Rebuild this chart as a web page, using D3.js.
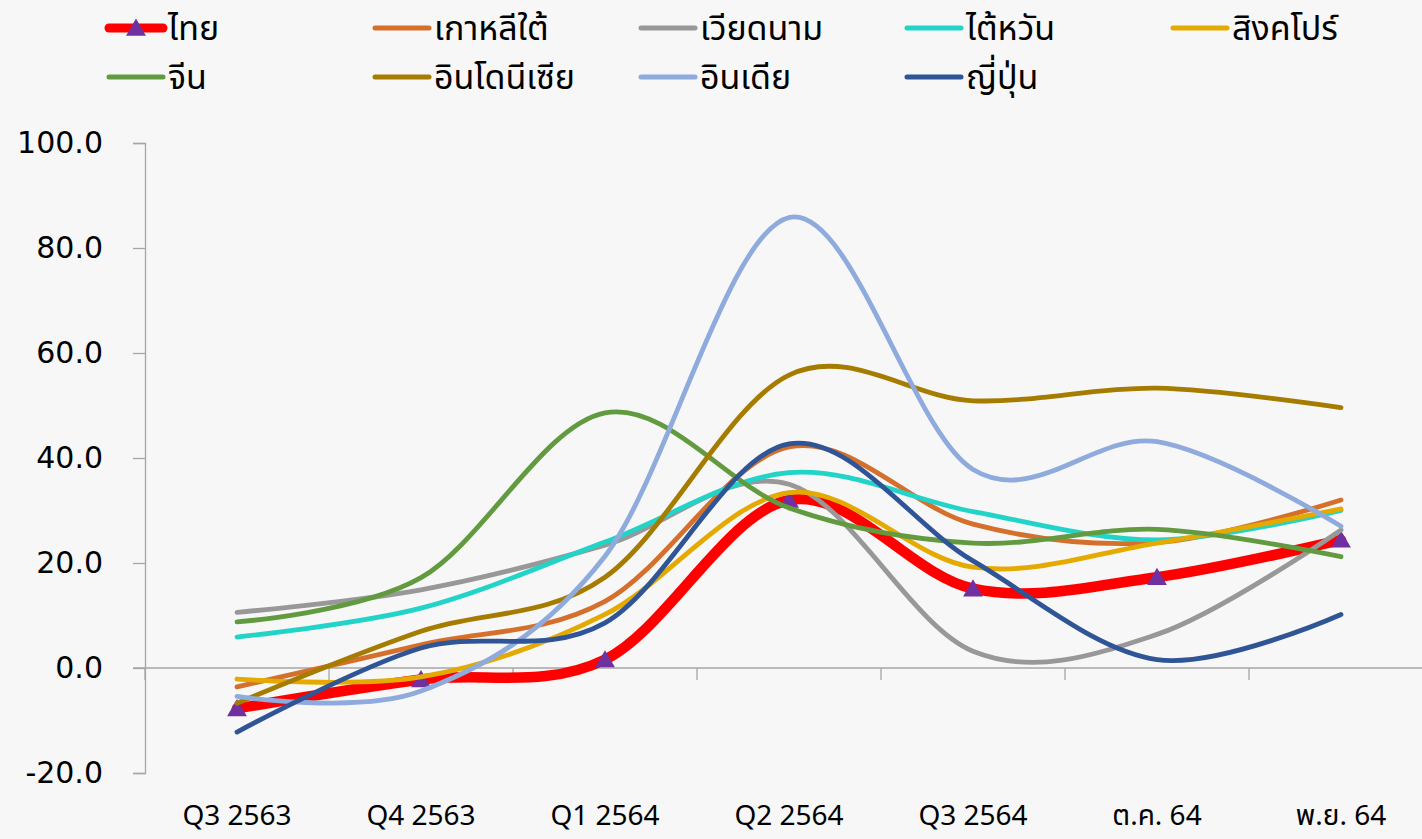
<!DOCTYPE html>
<html>
<head>
<meta charset="utf-8">
<script src="https://cdn.jsdelivr.net/npm/d3@7/dist/d3.min.js"></script>
<style>
  body { margin: 0; background: #f7f7f7; }
  svg { display: block; }
  .thai { font-family: "Noto Sans Thai", "Noto Sans", "DejaVu Sans", sans-serif; }
</style>
</head>
<body>
<div id="chart"></div>
<script>
var categories = ["Q3 2563", "Q4 2563", "Q1 2564", "Q2 2564", "Q3 2564", "ต.ค. 64", "พ.ย. 64"];
var yTicks = [-20, 0, 20, 40, 60, 80, 100];

var thai      = [-7.7, -2.2, 1.6, 32.0, 15.1, 17.3, 24.4];
var korea     = [-3.6, 4.4, 12.7, 42.1, 27.4, 23.9, 32.0];
var vietnam   = [10.6, 14.9, 23.4, 35.0, 3.2, 6.4, 26.3];
var taiwan    = [5.9, 11.4, 24.0, 37.2, 29.8, 24.4, 30.0];
var singapore = [-2.1, -1.7, 10.2, 33.4, 19.2, 23.8, 30.3];
var china     = [8.8, 17.2, 48.6, 30.5, 23.8, 26.4, 21.2];
var indonesia = [-6.7, 7.0, 17.3, 55.8, 50.9, 53.3, 49.6];
var india     = [-5.4, -4.4, 21.3, 85.8, 37.8, 43.1, 27.0];
var japan     = [-12.2, 3.8, 8.6, 42.7, 20.4, 1.6, 10.2];

var seriesNames = ["ไทย", "เกาหลีใต้", "เวียดนาม", "ไต้หวัน", "สิงคโปร์", "จีน", "อินโดนีเซีย", "อินเดีย", "ญี่ปุ่น"];
var seriesValues = [thai, korea, vietnam, taiwan, singapore, china, indonesia, india, japan];
var seriesColors = ["#ff0000", "#d4702c", "#989898", "#22d3c8", "#e4aa00", "#629b3f", "#a67c00", "#8faadc", "#2f5597"];

var W = 1422, H = 839;
var m = {top: 143, left: 145, bottom: 66};

var svg = d3.select("#chart").append("svg")
    .attr("width", W)
    .attr("height", H);

svg.append("rect").attr("width", W).attr("height", H).attr("fill", "#f7f7f7");

// scales
var x = d3.scaleBand().domain(categories).range([m.left, m.left + 184 * 7]).padding(0);
var y = d3.scaleLinear().domain([-20, 100]).range([H - m.bottom, m.top]);

function cx(i) { return x(categories[i]) + x.bandwidth() / 2; }

// y axis
var yAxis = d3.axisLeft(y)
    .tickValues(yTicks)
    .tickSize(12)
    .tickPadding(30)
    .tickFormat(function(d) { return d.toFixed(1); });

var gy = svg.append("g")
    .attr("transform", "translate(" + m.left + ",0)")
    .call(yAxis);
gy.select(".domain").attr("stroke", "#a6a6a6").attr("stroke-width", 1.3);
gy.selectAll(".tick line").attr("stroke", "#a6a6a6").attr("stroke-width", 1.3);
gy.selectAll(".tick text")
    .attr("fill", "#000")
    .style("font-family", "'DejaVu Sans', sans-serif")
    .style("font-size", "30px");

// zero line with category ticks
var y0 = y(0);
svg.append("line")
    .attr("x1", m.left - 12).attr("x2", W)
    .attr("y1", y0).attr("y2", y0)
    .attr("stroke", "#a6a6a6").attr("stroke-width", 1.3);

svg.selectAll(".xtick")
    .data(categories)
    .enter().append("line")
    .attr("class", "xtick")
    .attr("x1", function(d) { return x(d); })
    .attr("x2", function(d) { return x(d); })
    .attr("y1", y0).attr("y2", y0 + 12)
    .attr("stroke", "#a6a6a6").attr("stroke-width", 1.3);

// category labels
svg.selectAll(".xlabel")
    .data(categories)
    .enter().append("text")
    .attr("class", "xlabel thai")
    .attr("x", function(d, i) { return cx(i); })
    .attr("y", 825)
    .attr("text-anchor", "middle")
    .style("font-size", "28px")
    .attr("fill", "#000")
    .text(function(d) { return d; });

// lines
var line = d3.line()
    .x(function(d, i) { return cx(i); })
    .y(function(d) { return y(d); })
    .curve(d3.curveCardinal.tension(0));

var tri = d3.symbol().type(d3.symbolTriangle).size(170);

seriesValues.forEach(function(vals, s) {
    svg.append("path")
        .datum(vals)
        .attr("fill", "none")
        .attr("stroke", seriesColors[s])
        .attr("stroke-width", s == 0 ? 10.5 : 4.8)
        .attr("stroke-linecap", "round")
        .attr("stroke-linejoin", "round")
        .attr("d", line);

    if (s == 0) {
        svg.selectAll(".marker")
            .data(vals)
            .enter().append("path")
            .attr("class", "marker")
            .attr("d", tri)
            .attr("transform", function(d, i) { return "translate(" + cx(i) + "," + (y(d) + 2) + ")"; })
            .attr("fill", "#7030a0");
    }
});

// legend
var legCols = [107, 373, 639, 905, 1171], legRows = [28, 77];
var leg = svg.selectAll(".leg")
    .data(seriesNames)
    .enter().append("g")
    .attr("class", "leg")
    .attr("transform", function(d, i) {
        return "translate(" + legCols[i % 5] + "," + legRows[Math.floor(i / 5)] + ")";
    });

leg.append("line")
    .attr("x1", 2).attr("x2", 56)
    .attr("stroke", function(d, i) { return seriesColors[i]; })
    .attr("stroke-width", function(d, i) { return i == 0 ? 9 : 5; })
    .attr("stroke-linecap", "round");

leg.filter(function(d, i) { return i == 0; })
    .append("path")
    .attr("d", tri)
    .attr("transform", "translate(29,2)")
    .attr("fill", "#7030a0");

leg.append("text")
    .attr("class", "thai")
    .attr("x", 61)
    .attr("y", 12)
    .style("font-size", "34px")
    .attr("fill", "#000")
    .text(function(d) { return d; });
</script>
</body>
</html>
